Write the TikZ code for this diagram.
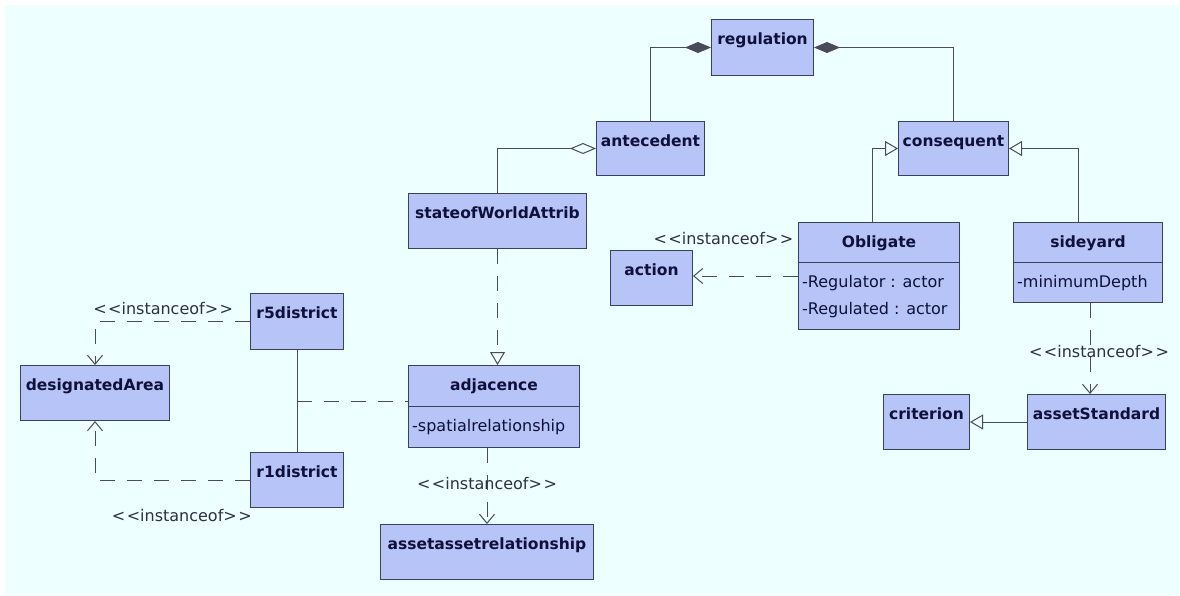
\documentclass[tikz,border=0pt]{standalone}
\usepackage{fontspec}
\usetikzlibrary{arrows.meta,calc}
\newfontfamily\umlfamily{DejaVu Sans}
\newcommand\clsnamefont{\umlfamily\bfseries\fontsize{15.5}{18}\selectfont}
\newcommand\attrfont{\umlfamily\fontsize{16}{19}\selectfont}
\newcommand\stereo{<\kern1.5pt<instanceof>\kern1.5pt>}
\definecolor{canvas}{HTML}{EDFFFF}
\definecolor{boxfill}{HTML}{B6C4F8}
\definecolor{boxline}{HTML}{3C4060}
\definecolor{wire}{HTML}{4A4A58}
\definecolor{ink}{HTML}{10103A}
\definecolor{lblink}{HTML}{303040}
\begin{document}
\begin{tikzpicture}[x=1pt,y=-1pt,
  cls/.style={draw=boxline, fill=boxfill, line width=1pt, anchor=north west,
    inner sep=0pt, font=\clsnamefont, text=ink, text height=25pt},
  divider/.style={draw=boxline, line width=1pt},
  attr/.style={anchor=base west, inner sep=0pt, font=\attrfont, text=ink},
  lbl/.style={anchor=base, inner sep=0pt, font=\attrfont, text=lblink},
  conn/.style={draw=wire, line width=1pt},
  dashline/.style={dash pattern=on 15pt off 12pt},
  comp/.style={conn, -{Diamond[length=26pt,width=11pt]}},
  aggr/.style={conn, -{Diamond[open,length=26pt,width=11pt]}},
  gen/.style={conn, -{Triangle[open,length=13pt,width=15pt]}},
  real/.style={conn, dashline, -{Triangle[open,length=13pt,width=15pt]}},
  dep/.style={conn, dashline, -{Straight Barb[length=9pt,width=15pt]}},
  assoc/.style={conn},
  assoccls/.style={conn, dashline}]

\useasboundingbox (0,0) rectangle (1180,595);
\fill[white] (0,0) rectangle (1180,595);
\fill[canvas] (5,5) rectangle (1180,595);

% classes
\node[cls, minimum width=102pt, minimum height=56pt, text depth=31pt] (regulation) at (711,19) {regulation};
\node[cls, minimum width=108pt, minimum height=54pt, text depth=29pt] (antecedent) at (596,121) {antecedent};
\node[cls, minimum width=110pt, minimum height=54pt, text depth=29pt] (consequent) at (898,121) {consequent};
\node[cls, minimum width=178pt, minimum height=55pt, text depth=30pt] (stateofWorldAttrib) at (408,193) {stateofWorldAttrib};
\node[cls, minimum width=161pt, minimum height=107pt, text depth=82pt] (Obligate) at (798,222) {Obligate};
\node[cls, minimum width=82pt, minimum height=55pt, text depth=30pt] (action) at (610,250) {action};
\node[cls, minimum width=149pt, minimum height=80pt, text depth=55pt] (sideyard) at (1013,222) {sideyard};
\node[cls, minimum width=171pt, minimum height=82pt, text depth=57pt] (adjacence) at (408,365) {adjacence};
\node[cls, minimum width=213pt, minimum height=55pt, text depth=30pt] (assetassetrelationship) at (380,524) {assetassetrelationship};
\node[cls, minimum width=93pt, minimum height=56pt, text depth=31pt] (r5district) at (250,293) {r5district};
\node[cls, minimum width=93pt, minimum height=55pt, text depth=30pt] (r1district) at (250,452) {r1district};
\node[cls, minimum width=149pt, minimum height=55pt, text depth=30pt] (designatedArea) at (20,365) {designatedArea};
\node[cls, minimum width=138pt, minimum height=55pt, text depth=30pt] (assetStandard) at (1027,394) {assetStandard};
\node[cls, minimum width=86pt, minimum height=55pt, text depth=30pt] (criterion) at (883,394) {criterion};

% attribute compartments
\draw[divider] ($(Obligate.north west)+(0,40)$) -- ($(Obligate.north east)+(0,40)$);
\node[attr] (oblRegulator) at ($(Obligate.north west)+(4,65)$) {-Regulator : actor};
\node[attr] (oblRegulated) at ($(Obligate.north west)+(4,92)$) {-Regulated : actor};
\draw[divider] ($(sideyard.north west)+(0,40)$) -- ($(sideyard.north east)+(0,40)$);
\node[attr] (sideDepth) at ($(sideyard.north west)+(4,65)$) {-minimumDepth};
\draw[divider] ($(adjacence.north west)+(0,41)$) -- ($(adjacence.north east)+(0,41)$);
\node[attr] (adjRel) at ($(adjacence.north west)+(4,66)$) {-spatialrelationship};

% composition and aggregation
\draw[comp] (antecedent.north) |- (regulation.west);
\draw[comp] (consequent.north) |- (regulation.east);
\draw[aggr] (stateofWorldAttrib.north) |- (antecedent.west);

% generalisations
\draw[gen] ($(Obligate.north)+(-7,0)$) |- (consequent.west);
\draw[gen] ($(sideyard.north)+(-10,0)$) |- (consequent.east);
\draw[gen] (assetStandard.west |- criterion.east) -- (criterion.east);
\draw[real] (stateofWorldAttrib.south) -- (stateofWorldAttrib.south |- adjacence.north);

% instance-of dependencies
\draw[dep] (Obligate.west) -- node[lbl, pos=0.71, yshift=32pt] (lblAction) {\stereo} (Obligate.west -| action.east);
\draw[dep] (r5district.west) -| node[lbl, pos=0.28, yshift=7pt] (lblR5) {\stereo} (designatedArea.north);
\draw[dep] (r1district.west) -| node[lbl, pos=0.22, yshift=-41pt] (lblR1) {\stereo} (designatedArea.south);
\draw[dep] (adjacence.south -| assetassetrelationship.north) -- node[lbl, yshift=-3.5pt] (lblAsset) {\stereo} (assetassetrelationship.north);
\draw[dep] ($(sideyard.south)+(2,0)$) -- node[lbl, xshift=9pt, yshift=-8.5pt] (lblStd) {\stereo} ($(sideyard.south |- assetStandard.north)+(2,0)$);

% association with association class
\draw[assoc] (r5district.south) -- coordinate[midway] (rlink) (r1district.north);
\draw[assoccls] (rlink) -- (rlink -| adjacence.west);
\end{tikzpicture}
\end{document}
